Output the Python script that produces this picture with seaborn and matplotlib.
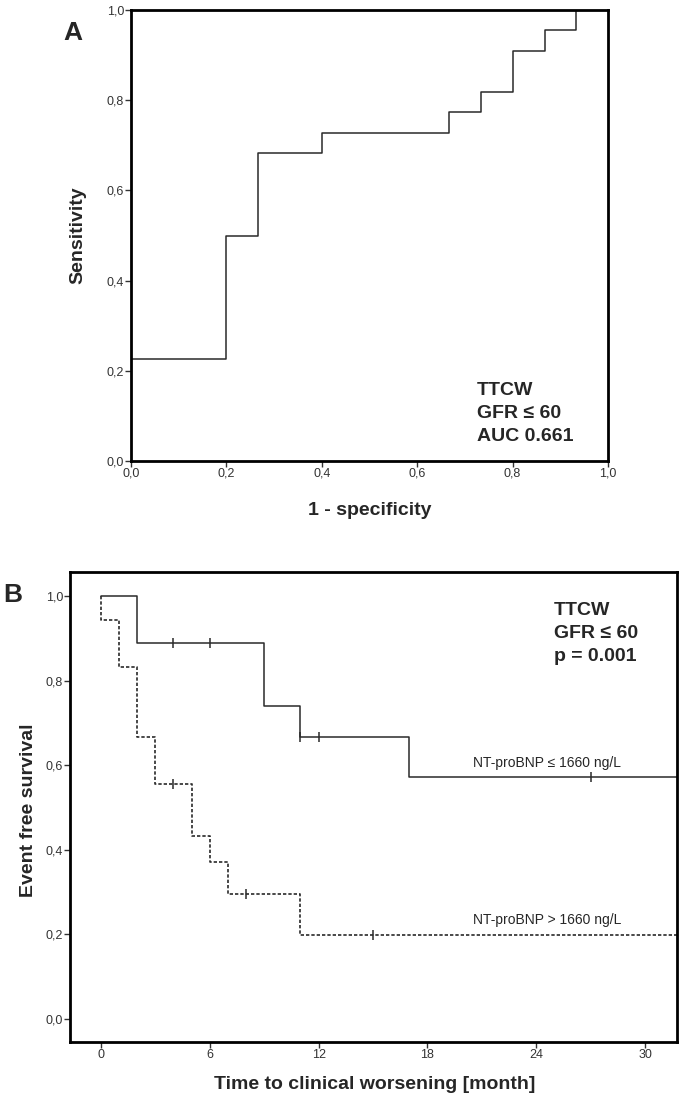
import matplotlib
matplotlib.use("Agg")
import matplotlib.pyplot as plt
import seaborn as sns
import pandas as pd

sns.set_style("white")
plt.rcParams['font.family'] = ['Liberation Sans', 'DejaVu Sans']

# ---- Panel A: ROC data ----
roc_fpr = [0.0, 0.0, 0.200, 0.267, 0.400, 0.667, 0.733, 0.800, 0.867, 0.933, 1.0]
roc_tpr = [0.0, 0.227, 0.500, 0.682, 0.727, 0.773, 0.818, 0.909, 0.955, 1.000, 1.0]
roc_ticks = [0.0, 0.2, 0.4, 0.6, 0.8, 1.0]
roc_ticklabels = ["0,0", "0,2", "0,4", "0,6", "0,8", "1,0"]
roc_text = "TTCW\nGFR ≤ 60\nAUC 0.661"

# ---- Panel B: Kaplan-Meier data ----
low_time = [0, 2, 9, 11, 17, 32]
low_surv = [1.0, 0.889, 0.741, 0.667, 0.571, 0.571]
low_cens_time = [4, 6, 11, 12, 27]
low_cens_surv = [0.889, 0.889, 0.667, 0.667, 0.571]

high_time = [0, 0, 1, 2, 3, 5, 6, 7, 11, 32]
high_surv = [1.0, 0.944, 0.833, 0.667, 0.556, 0.432, 0.370, 0.296, 0.198, 0.198]
high_cens_time = [4, 8, 15]
high_cens_surv = [0.556, 0.296, 0.198]

km_xticks = [0, 6, 12, 18, 24, 30]
km_yticks = [0.0, 0.2, 0.4, 0.6, 0.8, 1.0]
km_yticklabels = ["0,0", "0,2", "0,4", "0,6", "0,8", "1,0"]
label_low = "NT-proBNP ≤ 1660 ng/L"
label_high = "NT-proBNP > 1660 ng/L"
km_text = "TTCW\nGFR ≤ 60\np = 0.001"

LINE = "#2a2a2a"
TICKC = "#333333"

fig = plt.figure(figsize=(6.83, 11.03), dpi=100)
axA = fig.add_axes([131/683, 1 - 461/1103, 477/683, 451/1103])
axB = fig.add_axes([70/683, 1 - 1042/1103, 607/683, 470/1103])

tick_family = ['Liberation Sans Narrow', 'Liberation Sans', 'DejaVu Sans']

def style_axes(ax):
    for s in ax.spines.values():
        s.set_visible(True)
        s.set_color("black")
        s.set_linewidth(2.0)
    ax.tick_params(axis='both', direction='out', length=4, width=1, color=TICKC,
                   left=True, bottom=True, pad=1)
    for lab in ax.get_xticklabels() + ax.get_yticklabels():
        lab.set_fontfamily(tick_family)
        lab.set_fontsize(9)
        lab.set_color(TICKC)

# ---- Panel A ----
dfA = pd.DataFrame({"fpr": roc_fpr, "tpr": roc_tpr})
sns.lineplot(data=dfA, x="fpr", y="tpr", ax=axA, estimator=None, sort=False,
             drawstyle="steps-post", color=LINE, linewidth=1.1)
axA.set_xlim(0, 1)
axA.set_ylim(0, 1)
axA.set_xticks(roc_ticks)
axA.set_xticklabels(roc_ticklabels)
axA.set_yticks(roc_ticks)
axA.set_yticklabels(roc_ticklabels)
style_axes(axA)
axA.set_xlabel("1 - specificity", fontsize=14, fontweight="bold", va="center")
axA.set_ylabel("Sensitivity", fontsize=14, fontweight="bold", va="center")
axA.xaxis.set_label_coords(0.5, -0.109)
axA.yaxis.set_label_coords(-0.111, 0.5)
axA.text(0.725, 0.105, roc_text, transform=axA.transAxes, fontsize=14,
         fontweight="bold", va="center", ha="left", linespacing=1.45,
         family=['Liberation Sans', 'DejaVu Sans'])
axA.text(-0.121, 0.949, "A", transform=axA.transAxes, fontsize=19,
         fontweight="bold", ha="center", va="center")

# ---- Panel B ----
dfL = pd.DataFrame({"t": low_time, "s": low_surv})
dfH = pd.DataFrame({"t": high_time, "s": high_surv})
sns.lineplot(data=dfL, x="t", y="s", ax=axB, estimator=None, sort=False,
             drawstyle="steps-post", color=LINE, linewidth=1.1)
sns.lineplot(data=dfH, x="t", y="s", ax=axB, estimator=None, sort=False,
             drawstyle="steps-post", color=LINE, linewidth=1.2,
             linestyle=(0, (2.0, 1.2)))
sns.scatterplot(x=low_cens_time, y=low_cens_surv, ax=axB, marker="|", s=50,
                color=LINE, linewidth=1.1)
sns.scatterplot(x=high_cens_time, y=high_cens_surv, ax=axB, marker="|", s=50,
                color=LINE, linewidth=1.1)
axB.set_xlim(-1.7, 31.75)
axB.set_ylim(-0.055, 1.057)
axB.set_xticks(km_xticks)
axB.set_xticklabels([str(v) for v in km_xticks])
axB.set_yticks(km_yticks)
axB.set_yticklabels(km_yticklabels)
style_axes(axB)
axB.set_xlabel("Time to clinical worsening [month]", fontsize=14, fontweight="bold", va="center")
axB.set_ylabel("Event free survival", fontsize=14, fontweight="bold", va="center")
axB.xaxis.set_label_coords(0.502, -0.09)
axB.yaxis.set_label_coords(-0.0676, 0.493)
axB.text(24.96, 0.912, km_text, fontsize=14, fontweight="bold", va="center",
         ha="left", linespacing=1.45, family=['Liberation Sans', 'DejaVu Sans'])
axB.text(24.6, 0.604, label_low, fontsize=10, ha="center", va="center",
         family=tick_family)
axB.text(24.6, 0.233, label_high, fontsize=10, ha="center", va="center",
         family=tick_family)
axB.text(-0.094, 0.951, "B", transform=axB.transAxes, fontsize=19,
         fontweight="bold", ha="center", va="center")

fig.savefig("out.png", dpi=100, facecolor="white")
